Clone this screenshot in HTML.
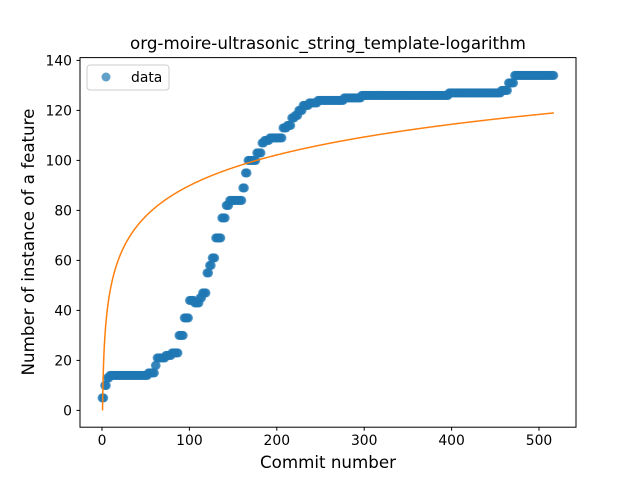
<!DOCTYPE html>
<html><head><meta charset="utf-8"><style>
body{margin:0;background:#fff}
svg{display:block;font-family:"DejaVu Sans","Liberation Sans",sans-serif}
</style></head><body>
<svg id="chart" width="640" height="480" xmlns="http://www.w3.org/2000/svg">
<rect width="640" height="480" fill="#fff"/>
<text x="328" y="49" font-size="16.7" text-anchor="middle">org-moire-ultrasonic_string_template-logarithm</text>
<g id="plot"></g>
<rect x="80" y="57.6" width="496" height="369.6" fill="none" stroke="#000" stroke-width="1"/>
<g id="ticks"></g>
<text x="328" y="468" font-size="16.7" text-anchor="middle">Commit number</text>
<text transform="translate(34,242) rotate(-90)" font-size="16.7" text-anchor="middle">Number of instance of a feature</text>
<g>
<rect x="87" y="65" width="82" height="25" rx="3" fill="#fff" fill-opacity="0.8" stroke="#ccc"/>
<circle cx="106" cy="77" r="4.5" fill="#1f77b4" fill-opacity="0.7"/>
<text x="131" y="82" font-size="13.9">data</text>
</g>
</svg>
<script>
const stepStart=[0,3,6,9,53,61,63,66,73,80,88,94,100,106,112,115,120,123,126,130,137,142,146,161,164,167,177,183,186,192,207,212,217,221,225,230,237,247,277,297,397,457,465,469,472];
const stepValue=[5,10,13,14,15,18,21,21,22,23,30,37,44,43,45,47,55,58,61,69,77,82,84,89,95,100,103,107,108,109,113,114,117,118,120,122,123,124,125,126,127,128,131,131,134];
const nCommits=518;
const fitA=17.7, fitB=8.4;
const xTicks=[0,100,200,300,400,500];
const yTicks=[0,20,40,60,80,100,120,140];
const NS="http://www.w3.org/2000/svg";
function xs(v){return 102+v*0.874;}
function ys(v){return 410.4-v*2.5;}
const plot=document.getElementById('plot');
const ticks=document.getElementById('ticks');
for(let i=0;i<nCommits;i++){
  let v=stepValue[0];
  for(let k=0;k<stepStart.length;k++){if(i>=stepStart[k])v=stepValue[k];}
  const c=document.createElementNS(NS,'circle');
  c.setAttribute('cx',xs(i));c.setAttribute('cy',ys(v));c.setAttribute('r',4.5);
  c.setAttribute('fill','#1f77b4');c.setAttribute('fill-opacity','0.7');
  
  
  plot.appendChild(c);
}
let d='';
const x0=Math.exp(-fitB/fitA);
for(let j=0;j<=600;j++){
  const x=x0+(nCommits-1-x0)*Math.pow(j/600,2);
  const y=fitA*Math.log(x)+fitB;
  d+=(j?'L':'M')+xs(x).toFixed(2)+','+ys(y).toFixed(2);
}
const p=document.createElementNS(NS,'path');
p.setAttribute('d',d);p.setAttribute('fill','none');p.setAttribute('stroke','#ff7f0e');p.setAttribute('stroke-width','1.5');


plot.appendChild(p);
xTicks.forEach(t=>{
  const l=document.createElementNS(NS,'line');
  l.setAttribute('x1',xs(t));l.setAttribute('x2',xs(t));l.setAttribute('y1',427.2);l.setAttribute('y2',430.7);l.setAttribute('stroke','#000');
  
  
  ticks.appendChild(l);
  const tx=document.createElementNS(NS,'text');
  tx.setAttribute('x',xs(t));tx.setAttribute('y',445);tx.setAttribute('font-size','13.9');tx.setAttribute('text-anchor','middle');
  tx.textContent=t;
  
  
  ticks.appendChild(tx);
});
yTicks.forEach(t=>{
  const l=document.createElementNS(NS,'line');
  l.setAttribute('x1',76.5);l.setAttribute('x2',80);l.setAttribute('y1',ys(t));l.setAttribute('y2',ys(t));l.setAttribute('stroke','#000');
  
  
  ticks.appendChild(l);
  const tx=document.createElementNS(NS,'text');
  tx.setAttribute('x',72);tx.setAttribute('y',ys(t)+5);tx.setAttribute('font-size','13.9');tx.setAttribute('text-anchor','end');
  tx.textContent=t;
  
  
  ticks.appendChild(tx);
});
</script>
</body></html>
